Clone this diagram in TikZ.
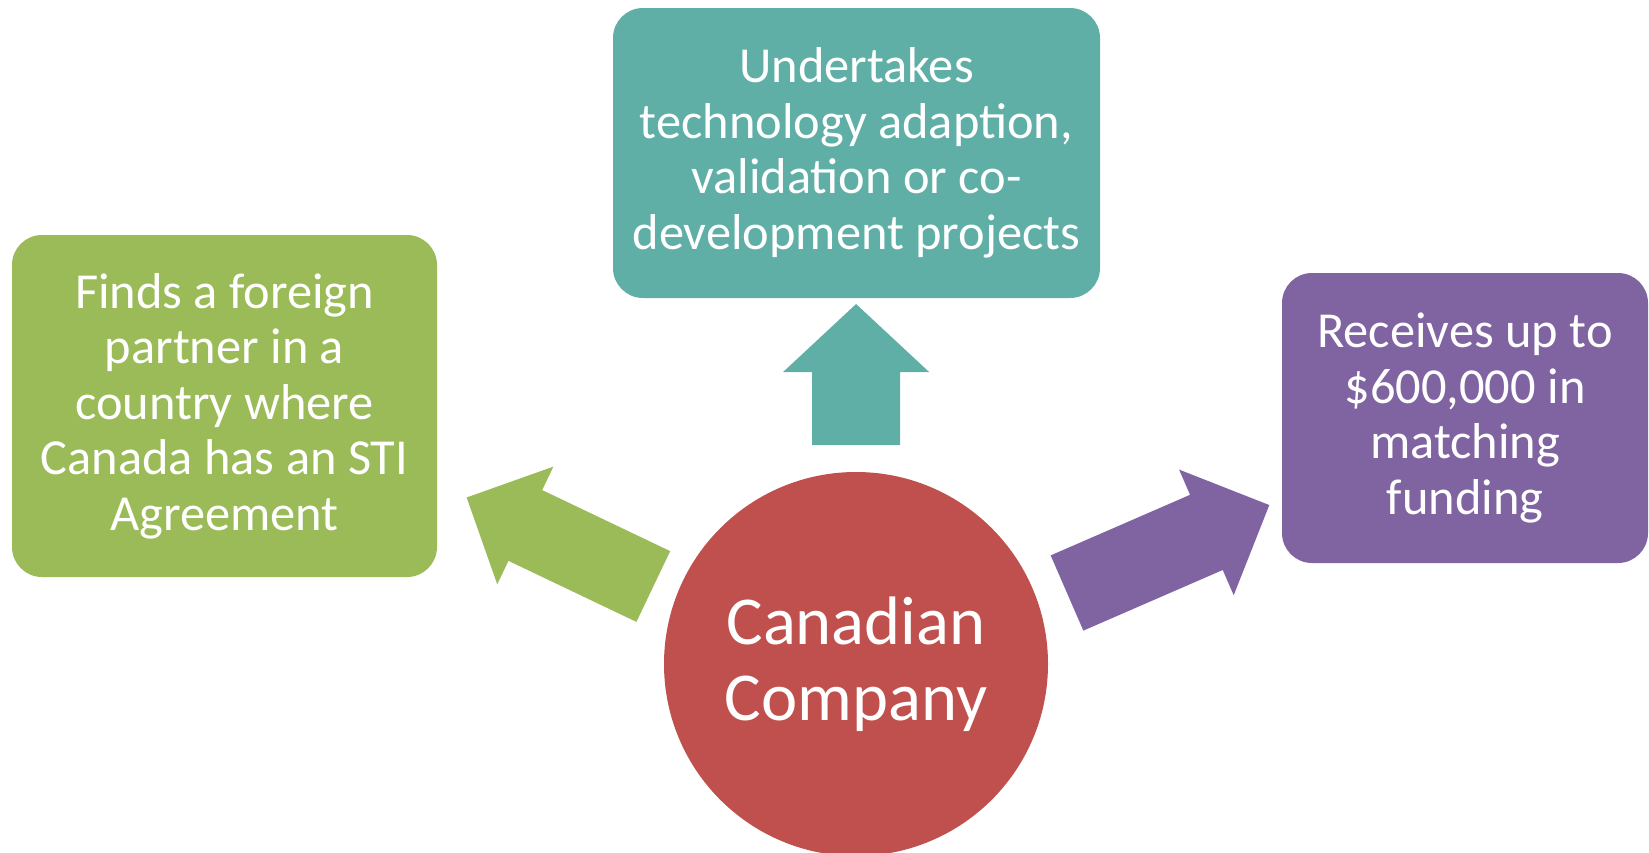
\documentclass[tikz,border=0pt]{standalone}
\usepackage{fontspec}
\setmainfont{Carlito}

\definecolor{findgreen}{HTML}{9BBB59}
\definecolor{taskteal}{HTML}{5FAFA6}
\definecolor{fundpurple}{HTML}{8064A2}
\definecolor{companyred}{HTML}{C0504D}

\tikzstyle{block} = [rectangle, rounded corners=15pt, text=white, align=center, inner sep=0pt, font=\fontsize{25.2}{27.75}\selectfont]
\tikzstyle{company} = [circle, minimum size=192pt, inner sep=0pt, text=white, align=center, fill=companyred, font=\fontsize{34.3}{38}\selectfont]

\begin{document}
\begin{tikzpicture}[x=0.5pt, y=-0.5pt]
    \useasboundingbox (0,0) rectangle (1649,852);
	\node (Company) at (856,664) [company] {Canadian\\Company};
	\node (Partner) at (224.5,406) [block, fill=findgreen, minimum width=212.5pt, minimum height=171pt] {Finds a foreign\\partner in a\\country where\\Canada has an STI\\Agreement};
	\node (Projects) at (856.5,153) [block, fill=taskteal, minimum width=243.5pt, minimum height=145pt] {Undertakes\\technology adaption,\\validation or co-\\development projects};
	\node (Funding) at (1465,418) [block, fill=fundpurple, minimum width=183pt, minimum height=145pt] {Receives up to\\\$600,000 in\\matching\\funding};
	% block arrows from the company to each box
	\coordinate (PartnerTail) at (653.3,586.5);
	\coordinate (ProjectsTail) at (856.1,445);
	\coordinate (FundingTail) at (1067,593);
	\fill[findgreen, shift={(PartnerTail)}, rotate=154.5] (0pt,-19.6pt) -- (70.9pt,-19.6pt) -- (70.9pt,-32.6pt) -- (103.4pt,0pt) -- (70.9pt,32.6pt) -- (70.9pt,19.6pt) -- (0pt,19.6pt) -- cycle;
	\fill[taskteal, shift={(ProjectsTail)}, rotate=90] (0pt,-22pt) -- (36.5pt,-22pt) -- (36.5pt,-36.5pt) -- (70.5pt,0pt) -- (36.5pt,36.5pt) -- (36.5pt,22pt) -- (0pt,22pt) -- cycle;
	\fill[fundpurple, shift={(FundingTail)}, rotate=23.5] (0pt,-20.5pt) -- (76pt,-20.5pt) -- (76pt,-34.25pt) -- (110.3pt,0pt) -- (76pt,34.25pt) -- (76pt,20.5pt) -- (0pt,20.5pt) -- cycle;
\end{tikzpicture}
\end{document}
